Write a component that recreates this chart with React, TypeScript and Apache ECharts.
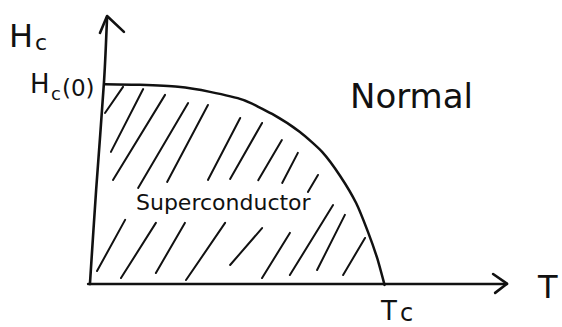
import React, { useEffect, useRef } from "react";
import * as echarts from "echarts";

// Critical field curve Hc(T), normalised: T / Tc and H / Hc(0)
const curveT = [0.055, 0.173, 0.302, 0.41, 0.522, 0.62, 0.714, 0.789, 0.85, 0.904, 0.944, 0.975, 1.0];
const curveH = [1.0, 0.997, 0.987, 0.962, 0.922, 0.852, 0.762, 0.663, 0.543, 0.408, 0.264, 0.134, 0.0];

// Hand-drawn axes (slightly slanted vertical axis)
const yAxisSketchT = [0.004, 0.025, 0.052, 0.062];
const yAxisSketchH = [0.004, 0.473, 1.021, 1.335];
const xAxisSketch = [[-0.002, 0.004], [1.414, 0.004]];
const yArrowHead = [[0.038, 1.256], [0.062, 1.34], [0.119, 1.261]];
const xArrowHead = [[1.367, 0.054], [1.414, 0.006], [1.374, -0.04]];

// Hatching strokes of the superconducting region: [start, end]
const hatchUpper = [
  [[0.055, 0.857], [0.116, 0.987]],
  [[0.075, 0.663], [0.184, 0.976]],
  [[0.082, 0.523], [0.258, 0.947]],
  [[0.167, 0.483], [0.336, 0.906]],
  [[0.265, 0.513], [0.403, 0.897]],
  [[0.403, 0.523], [0.512, 0.832]],
  [[0.478, 0.528], [0.586, 0.807]],
  [[0.573, 0.522], [0.653, 0.722]],
  [[0.654, 0.508], [0.707, 0.658]],
  [[0.741, 0.463], [0.775, 0.548]],
];
const hatchLower = [
  [[0.028, 0.069], [0.123, 0.324]],
  [[0.109, 0.034], [0.227, 0.309]],
  [[0.227, 0.059], [0.325, 0.309]],
  [[0.329, 0.024], [0.461, 0.309]],
  [[0.478, 0.099], [0.586, 0.283]],
  [[0.586, 0.034], [0.68, 0.259]],
  [[0.68, 0.049], [0.826, 0.398]],
  [[0.772, 0.074], [0.866, 0.349]],
  [[0.86, 0.049], [0.934, 0.234]],
];

const INK = "#111111";
const FONT = "DejaVu Sans";

export default function App() {
  const ref = useRef<HTMLDivElement>(null);

  useEffect(() => {
    if (!ref.current) return;
    const chart = echarts.init(ref.current, null, { renderer: "svg" });

    const txt = (text: string, x: number, y: number, size: number) => ({
      type: "text",
      x,
      y,
      style: {
        text,
        fill: INK,
        font: `${size}px "${FONT}"`,
        verticalAlign: "middle",
        align: "left",
      },
    });

    const lineStyleOf = (w: number) => ({
      color: INK,
      width: w,
      opacity: 1,
      cap: "round",
      join: "round",
    });

    chart.setOption({
      animation: false,
      backgroundColor: "#ffffff",
      grid: { left: 0, right: 0, top: 0, bottom: 0 },
      xAxis: { type: "value", min: -0.3, max: 1.6, show: false, splitLine: { show: false } },
      yAxis: { type: "value", min: -0.21, max: 1.42, show: false, splitLine: { show: false } },
      series: [
        {
          type: "line",
          name: "Hc(T)",
          data: curveT.map((t, i) => [t, curveH[i]]),
          smooth: 0.2,
          showSymbol: false,
          lineStyle: lineStyleOf(2.5),
        },
        {
          type: "line",
          name: "H axis",
          data: yAxisSketchT.map((t, i) => [t, yAxisSketchH[i]]),
          smooth: 0.3,
          showSymbol: false,
          lineStyle: lineStyleOf(2.6),
        },
        {
          type: "lines",
          coordinateSystem: "cartesian2d",
          polyline: true,
          silent: true,
          lineStyle: lineStyleOf(2.6),
          data: [{ coords: xAxisSketch }, { coords: yArrowHead }, { coords: xArrowHead }],
        },
        {
          type: "lines",
          coordinateSystem: "cartesian2d",
          silent: true,
          lineStyle: lineStyleOf(2),
          data: [...hatchUpper, ...hatchLower].map((c) => ({ coords: c })),
        },
      ],
      graphic: [
        txt("H", 9, 36, 32),
        txt("c", 35, 42, 22),
        txt("H", 30, 84, 26),
        txt("c", 51, 93, 18),
        txt("(0)", 62, 88, 23),
        txt("Normal", 350, 96, 34),
        txt("Superconductor", 136, 202, 22),
        txt("T", 381, 311, 26),
        txt("c", 400, 313, 24),
        txt("T", 538, 287, 32),
      ],
    });

    return () => chart.dispose();
  }, []);

  return (
    <div
      ref={ref}
      style={{ position: "fixed", left: 0, top: 0, width: 562, height: 327, background: "#fff" }}
    />
  );
}
